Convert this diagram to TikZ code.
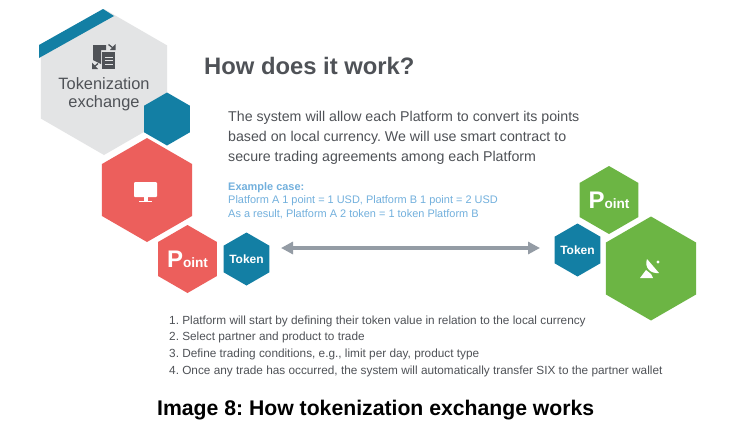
\documentclass[tikz,border=0pt]{standalone}
\usepackage{fontspec}
\setmainfont{Liberation Sans}
\usetikzlibrary{shapes.geometric,arrows.meta}
\definecolor{hexgray}{HTML}{E3E4E5}
\definecolor{hexteal}{HTML}{137FA4}
\definecolor{hexred}{HTML}{EC5F5C}
\definecolor{hexgreen}{HTML}{6CB544}
\definecolor{textgray}{HTML}{4F5257}
\definecolor{textblue}{HTML}{72B0DD}
\definecolor{arrowgray}{HTML}{949CA5}
\tikzset{
	hex/.style = {regular polygon, regular polygon sides=6, shape border rotate=30, inner sep=0pt, align=center, text=white},
	biggray/.style = {hex, fill=hexgray, minimum size=146pt},
	bigred/.style = {hex, fill=hexred, minimum size=104pt},
	biggreen/.style = {hex, fill=hexgreen, minimum size=104pt},
	pointred/.style = {hex, fill=hexred, minimum size=68pt},
	pointgreen/.style = {hex, fill=hexgreen, minimum size=68pt},
	token/.style = {hex, fill=hexteal, minimum size=53pt, font=\fontsize{12}{12}\selectfont\bfseries},
	para/.style = {anchor=west, align=left, inner sep=0pt, text=textgray},
	example/.style = {para, text=textblue, font=\fontsize{10.95}{13.3}\selectfont},
	steps/.style = {para, font=\fontsize{11.8}{16.7}\selectfont}
}
\newcommand{\pointlabel}{\makebox[30pt]{\fontsize{24}{24}\selectfont\bfseries P\fontsize{13.6}{14}\selectfont oint}}
\newcommand{\tokenlabel}{\makebox[20pt]{Token}}
\frenchspacing
\begin{document}
\begin{tikzpicture}[x=1pt,y=-1pt]
	\useasboundingbox (0,0) rectangle (747,439);
	\fill[white] (0,0) rectangle (747,439);
	% left column
	\node [biggray] (exchange) at (104,82) {};
	\fill[hexteal] (39,45) -- (103,9) -- (114,16) -- (39,58) -- cycle;
	\node [hex, fill=hexteal, minimum size=53pt] (corner) at (167,119) {};
	\node [bigred] (platformA) at (147,190) {};
	\node [pointred] (pointA) at (187.5,259) {\pointlabel};
	\node [token] (tokenA) at (246.5,259) {\tokenlabel};
	\node [para, anchor=center, text=textgray, font=\fontsize{16.4}{18}\selectfont, align=center] (exchangetext) at (104,94.5) {Tokenization\\exchange};
	% right column
	\node [pointgreen] (pointB) at (609,200) {\pointlabel};
	\node [token] (tokenB) at (577.5,250) {\tokenlabel};
	\node [biggreen] (platformB) at (651,268.5) {};
	% arrow
	\coordinate (arrowL) at (281,248);
	\coordinate (arrowR) at (540,248);
	\draw[arrowgray, line width=3.2pt, {Triangle[length=12pt,width=12pt]}-{Triangle[length=12pt,width=12pt]}] (arrowL) -- (arrowR);
	% document icon
	\fill[textgray] (93,45) -- (106,45) -- (106,50) -- (101,50) -- (101,64) -- (93,60) -- cycle;
	\fill[textgray] (102,52) -- (115,52) -- (115,69) -- (102,69) -- cycle;
	\draw[hexgray, line width=1pt] (104.5,57) -- (112.5,57) (104.5,60.5) -- (112.5,60.5) (104.5,64) -- (112.5,64);
	\draw[textgray, line width=1.3pt] (108.5,44.5) -- (113,48);
	\fill[textgray] (115.5,50) -- (115.5,44) -- (110,50) -- cycle;
	\draw[textgray, line width=1.3pt] (94,67) -- (98,63.5);
	\fill[textgray] (92,62.5) -- (92,69) -- (98,69) -- cycle;
	% monitor icon
	\fill[white, rounded corners=1pt] (134,182) rectangle (157,197);
	\fill[white] (143.5,197) rectangle (147.5,200.5);
	\fill[white] (139,200.5) rectangle (152,202);
	% dish icon
	\fill[white] (647,259) .. controls (644,268) and (651,274) .. (659,273) -- cycle;
	\fill[white] (640,278) -- (646,270) -- (651,274) -- (653,278) -- cycle;
	\fill[white] (658,262) circle (1.6);
	% text
	\node [para, font=\fontsize{23.8}{24}\selectfont\bfseries] (title) at (204,65.5) {How does it work?};
	\node [para, font=\fontsize{14.2}{20.3}\selectfont] (intro) at (228,138) {The system will allow each Platform to convert its points\\based on local currency. We will use smart contract to\\secure trading agreements among each Platform};
	\node [example] (case) at (228,200.5) {\textbf{Example case:}\\Platform A 1 point = 1 USD, Platform B 1 point = 2 USD\\As a result, Platform A 2 token = 1 token Platform B};
	\node [steps] (list) at (169,346) {1. Platform will start by defining their token value in relation to the local currency\\2. Select partner and product to trade\\3. Define trading conditions, e.g., limit per day, product type\\4. Once any trade has occurred, the system will automatically transfer SIX to the partner wallet};
	\node [para, text=black, font=\fontsize{21.2}{22}\selectfont\bfseries] (caption) at (157,410.5) {Image 8: How tokenization exchange works};
\end{tikzpicture}
\end{document}
